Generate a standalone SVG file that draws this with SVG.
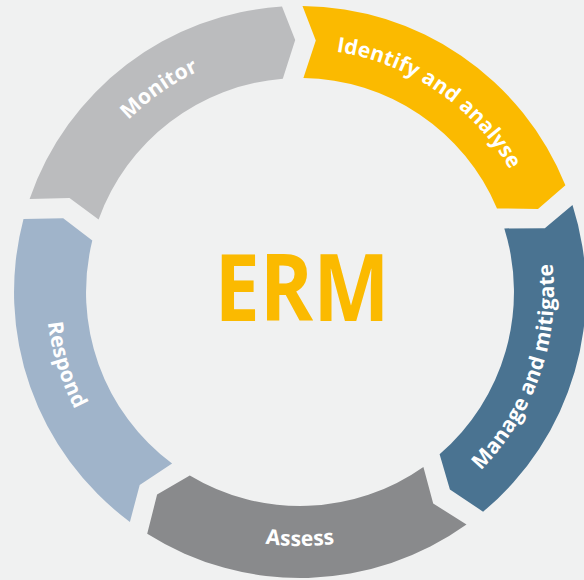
<svg xmlns="http://www.w3.org/2000/svg" width="584" height="580" viewBox="0 0 584 580">
  <style>
    .label { font-family: "Open Sans", "Noto Sans", "DejaVu Sans", sans-serif; font-weight: 700; font-size: 21px; fill: #ffffff; letter-spacing: 0.2px; }
    .title { font-family: "Open Sans", "Noto Sans", "DejaVu Sans", sans-serif; font-weight: 700; font-size: 93px; fill: #fbba00; }
  </style>
  <defs>
    <!-- baselines for the curved labels (ring centre 300,292) -->
    <path id="arc-monitor" d="M 57.9 312.3 A 243 243 0 0 1 403.5 72.1"/>
    <path id="arc-identify" d="M 194.2 73.2 A 243 243 0 0 1 542.3 309.8"/>
    <path id="arc-manage" d="M 348.0 541.4 A 254 254 0 0 0 492.0 125.7"/>
    <path id="arc-assess" d="M 80 419 A 254 254 0 0 0 520 419"/>
    <path id="arc-respond" d="M 113.5 119.6 A 254 254 0 0 0 243.9 539.7"/>
  </defs>

  <rect width="584" height="580" fill="#f0f1f1"/>

  <!-- ring segments: notched tail, pointed head, running clockwise -->
  <g id="monitor">
    <path fill="#bbbcbe" d="M 29.6 198.9 A 286 286 0 0 1 282.0 6.6 L 295.2 40.0 L 282.8 78.7 A 214 214 0 0 0 98.6 219.5 L 69.5 197.9 Z"/>
    <text class="label"><textPath href="#arc-monitor" startOffset="50%" text-anchor="middle">Monitor</textPath></text>
  </g>

  <g id="identify">
    <path fill="#fbba00" d="M 302.5 6.0 A 286 286 0 0 1 565.4 185.3 L 538.0 209.1 L 497.0 208.4 A 214 214 0 0 0 303.4 78.0 L 315.8 40.5 Z"/>
    <text class="label"><textPath href="#arc-identify" startOffset="50%" text-anchor="middle">Identify and analyse</textPath></text>
  </g>

  <g id="manage">
    <path fill="#4a7391" d="M 572.5 205.1 A 286 286 0 0 1 483.1 511.7 L 449.9 489.5 L 439.6 454.2 A 214 214 0 0 0 504.3 228.4 L 544.8 228.2 Z"/>
    <text class="label"><textPath href="#arc-manage" startOffset="50%" text-anchor="middle">Manage and mitigate</textPath></text>
  </g>

  <g id="assess">
    <path fill="#898a8c" d="M 466.5 524.5 A 286 286 0 0 1 147.2 533.8 L 157.1 494.6 L 189.8 475.4 A 214 214 0 0 0 423.4 466.9 L 433.2 503.5 Z"/>
    <text class="label"><textPath href="#arc-assess" startOffset="50%" text-anchor="middle">Assess</textPath></text>
  </g>

  <g id="respond">
    <path fill="#a0b4ca" d="M 129.9 521.9 A 286 286 0 0 1 23.5 219.0 L 63.2 218.2 L 92.3 240.6 A 214 214 0 0 0 172.1 463.6 L 139.7 485.1 Z"/>
    <text class="label"><textPath href="#arc-respond" startOffset="50%" text-anchor="middle">Respond</textPath></text>
  </g>

  <g id="erm">
    <text class="title" x="302" y="321" text-anchor="middle" textLength="175" lengthAdjust="spacingAndGlyphs">ERM</text>
  </g>
</svg>
